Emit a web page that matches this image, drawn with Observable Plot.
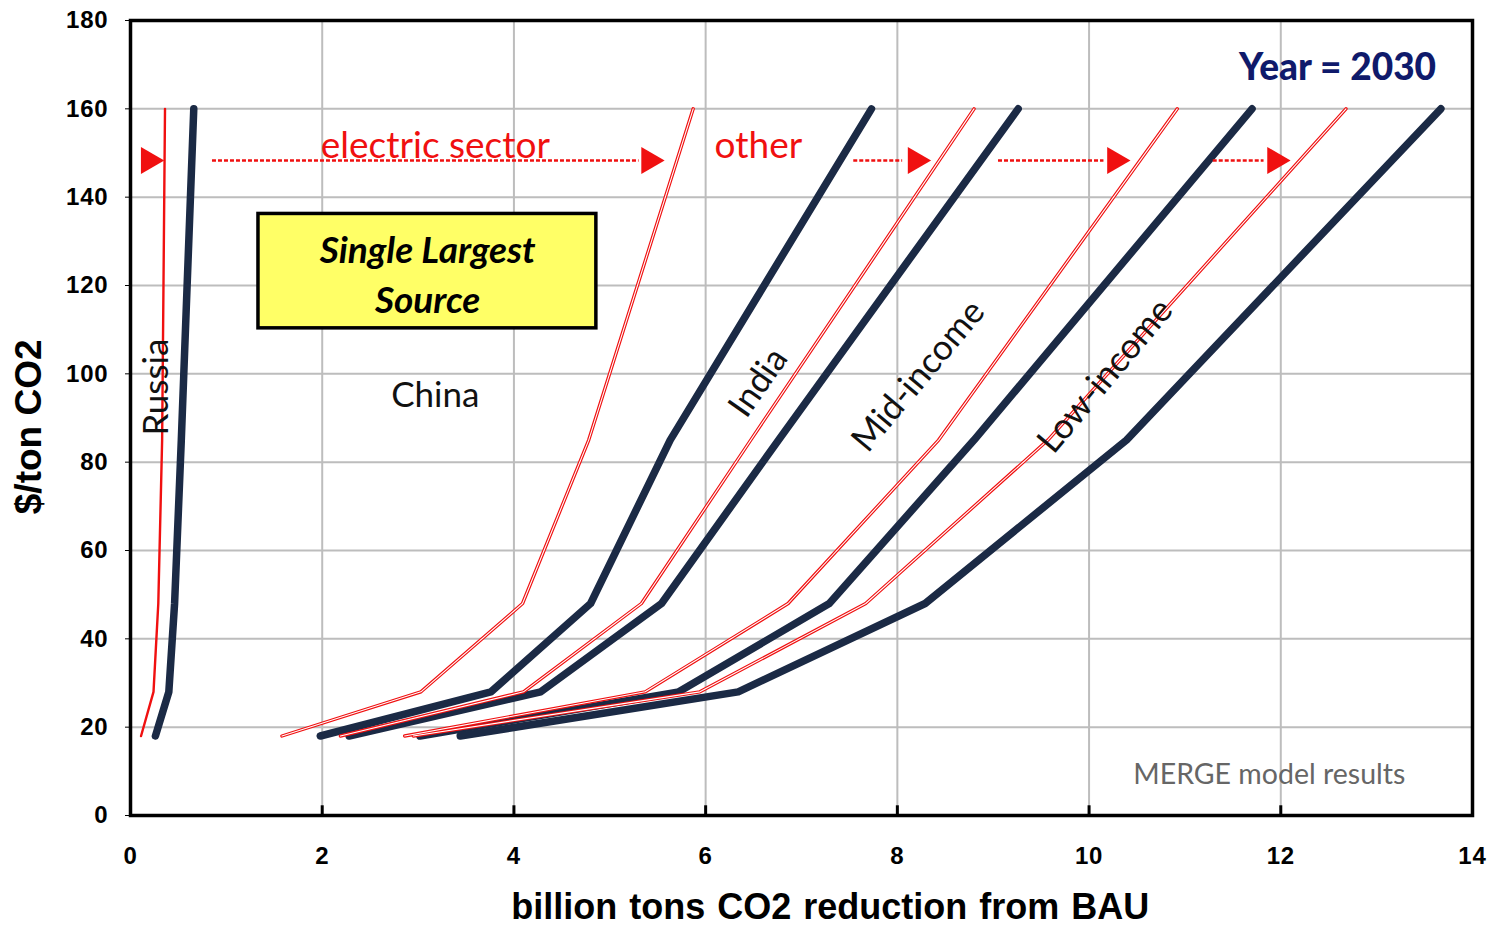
<!DOCTYPE html>
<html>
<head>
<meta charset="utf-8">
<script src="https://cdn.jsdelivr.net/npm/d3@7"></script>
<script src="https://cdn.jsdelivr.net/npm/@observablehq/plot@0.6"></script>
<style>
  html, body { margin: 0; padding: 0; background: #fff; }
  #chart svg { display: block; overflow: visible; }
  #chart g[aria-label="y-axis tick label"] text,
  #chart g[aria-label="x-axis tick label"] text { letter-spacing: 0.8px; }
  #chart g.xlabel text { word-spacing: 2px; }
</style>
</head>
<body>
<div id="chart"></div>
<script>
// ---- data ----
const prices = [18, 28, 48, 85, 160];               // $/ton CO2
const regions = ["Russia", "China", "India", "Mid-income", "Low-income"];
// electric sector reductions (billion tons CO2), one value per price
const electric = {
  "Russia":     [0.11, 0.24, 0.29, 0.33, 0.36],
  "China":      [1.58, 3.03, 4.09, 4.78, 5.87],
  "India":      [2.19, 4.10, 5.33, 6.47, 8.80],
  "Mid-income": [2.86, 5.37, 6.86, 8.43, 10.92],
  "Low-income": [2.95, 5.94, 7.67, 9.57, 12.68]
};
// electric + other sectors (cumulative)
const total = {
  "Russia":     [0.26, 0.40, 0.46, 0.53, 0.66],
  "China":      [1.98, 3.76, 4.80, 5.63, 7.73],
  "India":      [2.28, 4.28, 5.54, 6.76, 9.26],
  "Mid-income": [3.02, 5.72, 7.29, 8.80, 11.70],
  "Low-income": [3.44, 6.34, 8.29, 10.39, 13.67]
};
const xTicks = [0, 2, 4, 6, 8, 10, 12, 14];
const yTicks = [0, 20, 40, 60, 80, 100, 120, 140, 160, 180];

// ---- tables built from the arrays ----
const elecRows = regions.flatMap(r => prices.map((p, i) => ({region: r, x: electric[r][i], y: p})));
const totalRows = regions.flatMap(r => prices.map((p, i) => ({region: r, x: total[r][i], y: p})));
const elecMain = elecRows.filter(d => d.region !== "Russia");
const elecRussia = elecRows.filter(d => d.region === "Russia");

// ---- annotations ----
const regionLabels = [
  {text: "Russia", x: 0.27, y: 97, rotate: -90},
  {text: "China", x: 3.18, y: 95, rotate: 0},
  {text: "India", x: 6.55, y: 98, rotate: -55},
  {text: "Mid-income", x: 8.22, y: 99.5, rotate: -50},
  {text: "Low-income", x: 10.17, y: 99.5, rotate: -50}
];
const sectorLabels = [
  {text: "electric sector", x: 3.18, y: 151.5},
  {text: "other", x: 6.55, y: 151.5}
];
const arrowY = 148.3;
const arrowLines = [
  {x1: 0.85, x2: 5.3}, {x1: 7.54, x2: 8.05}, {x1: 9.05, x2: 10.15}, {x1: 11.29, x2: 11.82}
];
const arrowHeads = [0.19, 5.41, 8.19, 10.27, 11.94];
const box = [{x1: 1.335, x2: 4.86, y1: 110.3, y2: 136.2}];

const FONT = "Lato, 'Open Sans', sans-serif";
const NAVY = "#1b2a45";
const RED = "#f01010";

const chart = Plot.plot({
  width: 1496,
  height: 925,
  marginLeft: 130,
  marginRight: 24,
  marginTop: 20,
  marginBottom: 110,
  style: {background: "#fff", fontFamily: "'Liberation Sans', Arial, sans-serif"},
  x: {domain: [0, 14]},
  y: {domain: [0, 180]},
  marks: [
    Plot.gridX(xTicks, {stroke: "#bdbdbd", strokeOpacity: 1, strokeWidth: 2}),
    Plot.gridY(yTicks, {stroke: "#bdbdbd", strokeOpacity: 1, strokeWidth: 2}),
    Plot.frame({stroke: "black", strokeWidth: 3.5}),
    Plot.axisY({ticks: yTicks, tickSize: 5, tickPadding: 17, fontSize: 24, fontWeight: "bold", label: null}),
    Plot.axisX({ticks: xTicks, tickSize: 0, tickPadding: 31, fontSize: 24, fontWeight: "bold", label: null}),
    Plot.ruleX(xTicks.slice(1, -1), {y1: 0, y2: 2.2, stroke: "black", strokeWidth: 3}),
    Plot.text(["$/ton CO2"], {x: -1.06, y: 88, rotate: -90, fontSize: 37, fontWeight: "bold", fill: "black", clip: false}),
    Plot.text(["billion tons CO2 reduction from BAU"], {x: 7.3, y: -20.8, fontSize: 36, fontWeight: "bold", fill: "black", className: "xlabel"}),

    // highlighted box
    Plot.rect(box, {x1: "x1", x2: "x2", y1: "y1", y2: "y2", fill: "#ffff66", stroke: "black", strokeWidth: 3.5}),
    Plot.text(["Single Largest\nSource"], {x: 3.1, y: 123, fontSize: 37, fontWeight: "bold", fontStyle: "italic", lineHeight: 1.33, fontFamily: FONT, fill: "black"}),

    // total (electric + other) curves
    Plot.line(totalRows, {x: "x", y: "y", z: "region", stroke: NAVY, strokeWidth: 7.5, strokeLinejoin: "round"}),
    // electric curves (hollow red double line)
    Plot.line(elecMain, {x: "x", y: "y", z: "region", stroke: RED, strokeWidth: 3.4, strokeLinejoin: "round"}),
    Plot.line(elecMain, {x: "x", y: "y", z: "region", stroke: "#fff", strokeWidth: 1.1, strokeLinejoin: "round"}),
    Plot.line(elecRussia, {x: "x", y: "y", z: "region", stroke: RED, strokeWidth: 2.4, strokeLinejoin: "round"}),

    // region labels
    Plot.text(regionLabels, {x: "x", y: "y", text: "text", rotate: "rotate", fontSize: 35, fontFamily: FONT, fill: "#111"}),

    // sector labels & arrows
    Plot.text(sectorLabels, {x: "x", y: "y", text: "text", fontSize: 37, fontFamily: FONT, fill: RED}),
    Plot.link(arrowLines, {x1: "x1", x2: "x2", y1: arrowY, y2: arrowY, stroke: RED, strokeWidth: 2.6, strokeDasharray: "4,2"}),
    Plot.dot(arrowHeads, {x: d => d, y: arrowY, symbol: "triangle", r: 10, rotate: 90, fill: RED, stroke: "none"}),

    Plot.text(["Year = 2030"], {x: 13.62, y: 169.2, textAnchor: "end", fontSize: 37, fontWeight: "900", fontFamily: FONT, fill: "#0f1a6b"}),
    Plot.text(["MERGE model results"], {x: 11.88, y: 9.3, fontSize: 28.5, fontFamily: FONT, fill: "#666"})
  ]
});
document.getElementById("chart").appendChild(chart);
</script>
</body>
</html>
